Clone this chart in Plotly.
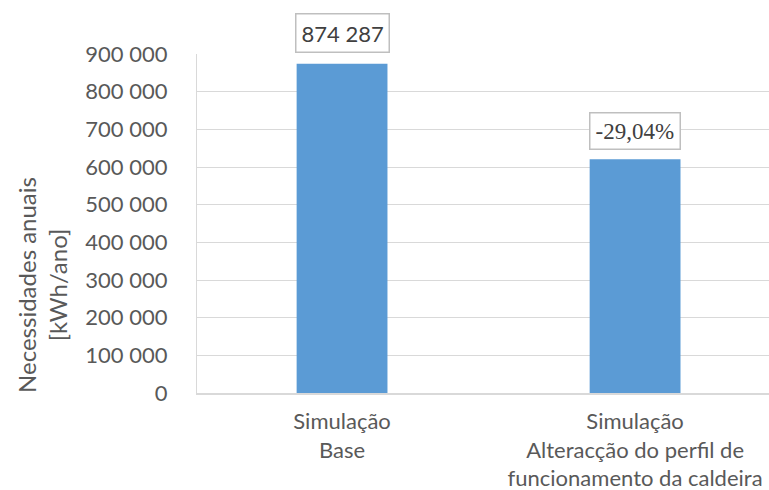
import plotly.graph_objects as go

categories = ["Simulação<br>Base",
              "Simulação<br>Alteracção do perfil de<br>funcionamento da caldeira"]
base_value = 874287
reduction_pct = -29.04
values = [base_value, base_value * (1 + reduction_pct / 100)]
y_ticks = [0, 100000, 200000, 300000, 400000, 500000, 600000, 700000, 800000, 900000]
y_tick_text = ["0" if v == 0 else f"{v:,}".replace(",", " ") for v in y_ticks]
label_texts = ["874 287", "-29,04%"]
label_families = ["Lato", "Liberation Serif, DejaVu Serif, serif"]
label_sizes = [22, 23]

bar_color = "#5B9BD5"
text_color = "#595959"
grid_color = "#D9D9D9"
x_pos = list(range(len(categories)))

fig = go.Figure()
fig.add_trace(go.Bar(
    x=x_pos, y=values, width=0.31,
    marker=dict(color=bar_color, line=dict(width=0)),
    hoverinfo="skip",
))

# boxed value labels sitting just above each bar
shifts = [11, 9]
for i in range(len(x_pos)):
    fig.add_annotation(
        x=x_pos[i], y=values[i], text=label_texts[i], showarrow=False,
        xref="x", yref="y", yanchor="bottom", yshift=shifts[i],
        font=dict(family=label_families[i], size=label_sizes[i], color="#404040"),
        bgcolor="white", bordercolor="#BFBFBF", borderwidth=1.5, borderpad=5,
    )

fig.add_annotation(
    text="Necessidades anuais<br>[kWh/ano]", textangle=-90,
    xref="paper", yref="paper", x=-0.272, y=0.32,
    xanchor="center", yanchor="middle", showarrow=False,
    font=dict(family="Lato", size=24, color=text_color),
)

fig.update_layout(
    width=769, height=490,
    margin=dict(l=197, r=0, t=54, b=97),
    paper_bgcolor="white", plot_bgcolor="white",
    showlegend=False,
    font=dict(family="Lato", size=22, color=text_color),
    xaxis=dict(
        range=[-0.495, 1.457], tickvals=x_pos, ticktext=categories,
        showgrid=False, zeroline=False, showline=True,
        linecolor=grid_color, linewidth=1.5, ticks="",
        ticklabelstandoff=8,
        tickfont=dict(family="Lato", size=22, color=text_color),
    ),
    yaxis=dict(
        range=[0, 900000], tickvals=y_ticks, ticktext=y_tick_text,
        showgrid=True, gridcolor=grid_color, gridwidth=1.3,
        zeroline=False, showline=True, linecolor=grid_color, linewidth=1.3,
        ticks="", ticklabelstandoff=24,
        tickfont=dict(family="Lato", size=22, color=text_color),
    ),
)

fig.write_html("out.html")
